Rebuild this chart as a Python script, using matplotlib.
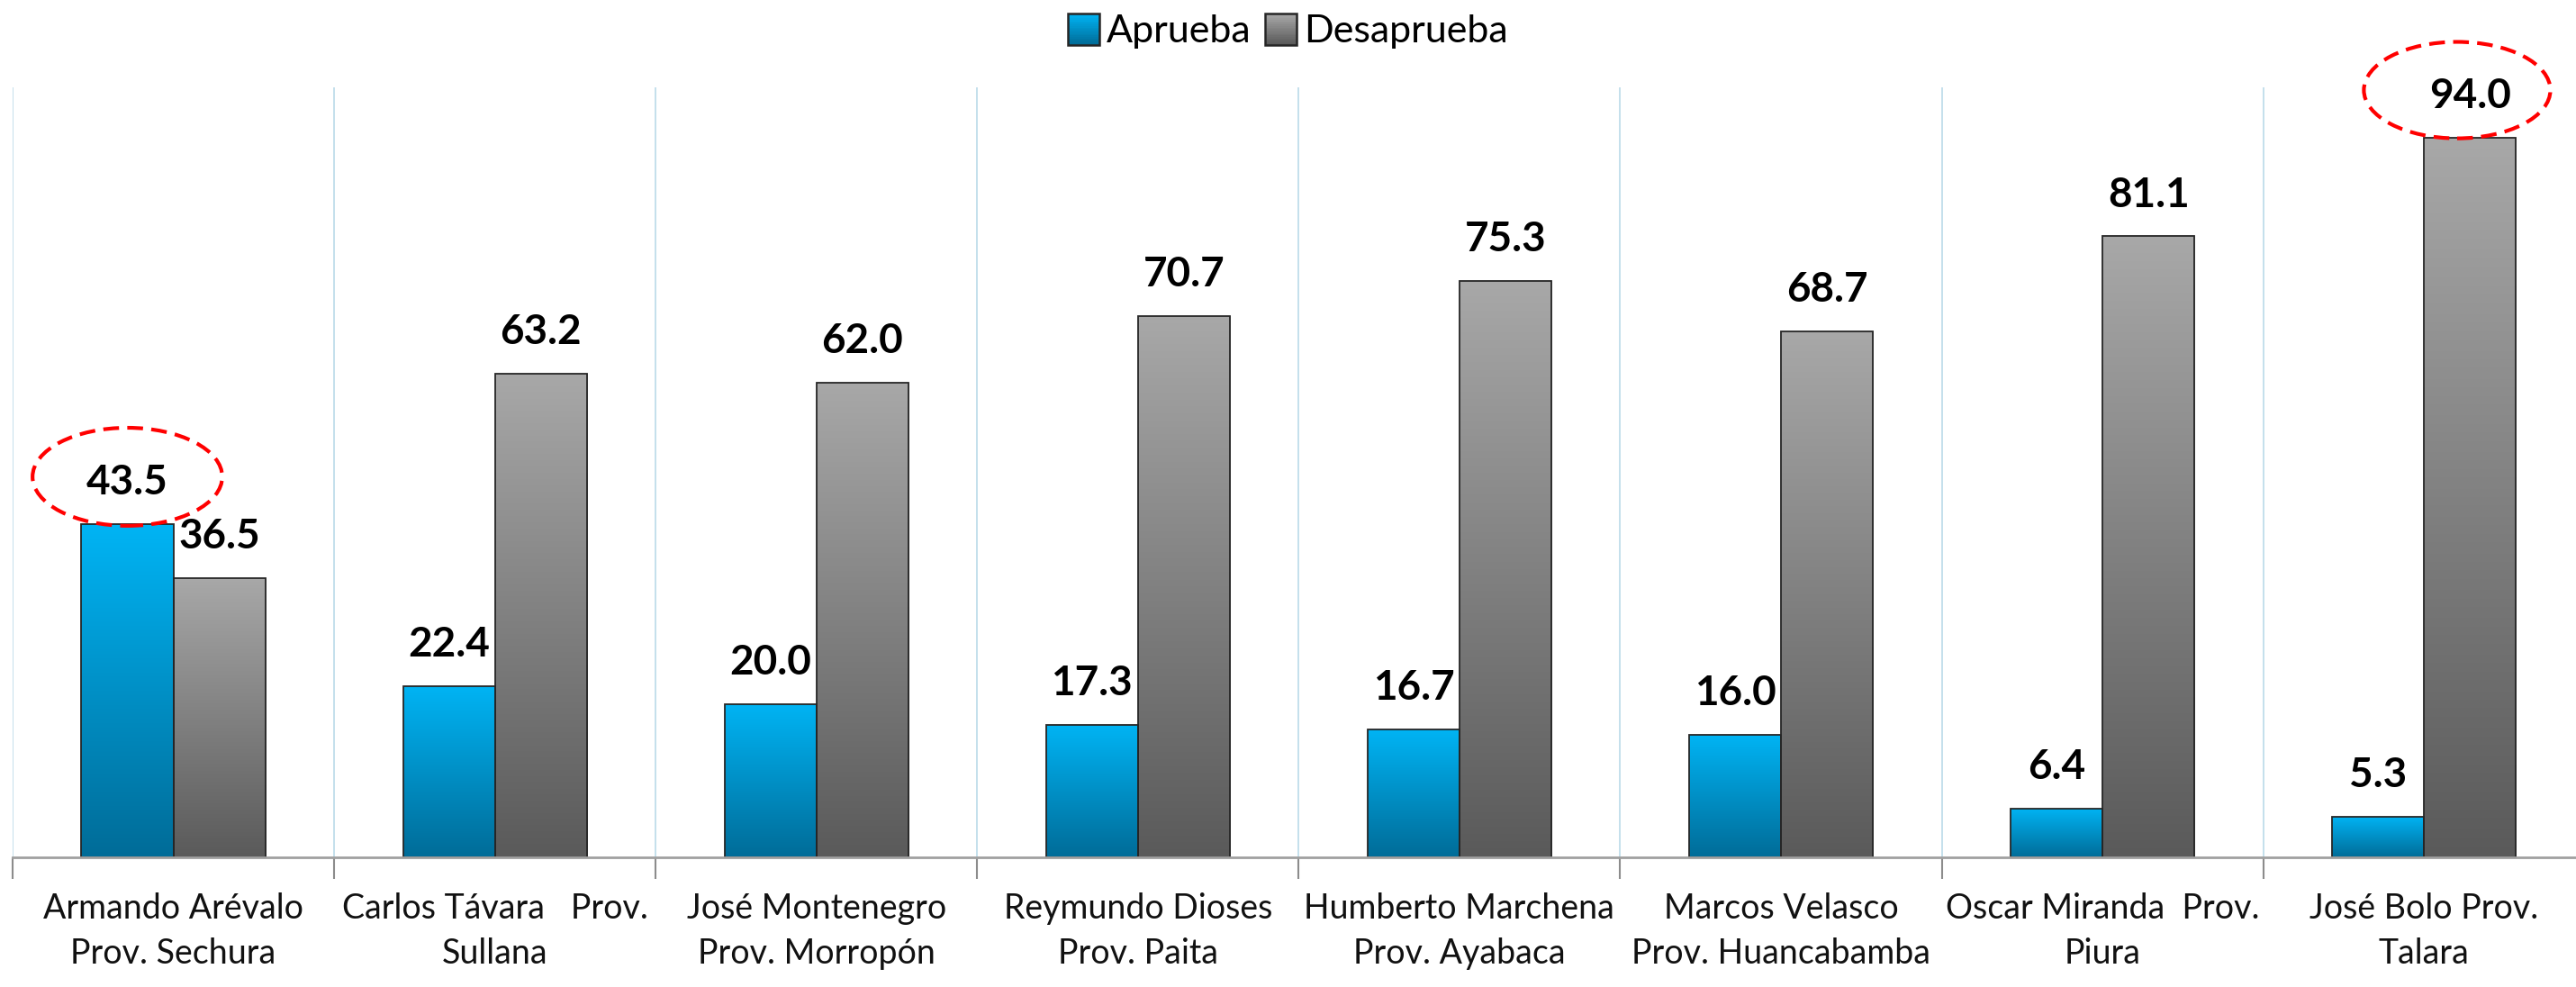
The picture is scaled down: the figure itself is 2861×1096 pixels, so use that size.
import numpy as np
import matplotlib
matplotlib.use("Agg")
import matplotlib.pyplot as plt
from matplotlib.patches import Ellipse, Rectangle
from matplotlib.colors import LinearSegmentedColormap
from matplotlib.legend_handler import HandlerBase

plt.rcParams['font.family'] = ['Lato', 'DejaVu Sans']

categories = [
    "Armando Arévalo\nProv. Sechura",
    "Carlos Távara   Prov.\nSullana",
    "José Montenegro\nProv. Morropón",
    "Reymundo Dioses\nProv. Paita",
    "Humberto Marchena\nProv. Ayabaca",
    "Marcos Velasco\nProv. Huancabamba",
    "Oscar Miranda  Prov.\nPiura",
    "José Bolo Prov.\nTalara",
]
aprueba = [43.5, 22.4, 20.0, 17.3, 16.7, 16.0, 6.4, 5.3]
desaprueba = [36.5, 63.2, 62.0, 70.7, 75.3, 68.7, 81.1, 94.0]
series_names = ["Aprueba", "Desaprueba"]

blue_cmap = LinearSegmentedColormap.from_list("b", ["#006C98", "#00B4F4"])
gray_cmap = LinearSegmentedColormap.from_list("g", ["#5A5A5A", "#A8A8A8"])
edge = "#262626"

fig = plt.figure(figsize=(28.61, 10.96), dpi=100)
ax = fig.add_axes([0.0049, 0.1314, 0.9985, 0.7804])

x = np.arange(len(categories))
w = 0.286
grad = np.linspace(0, 1, 256).reshape(-1, 1)


def gradient_bars(xs, vals, cmap):
    bars = ax.bar(xs, vals, width=w, facecolor="none", edgecolor=edge,
                  linewidth=1.3, zorder=3)
    for b in bars:
        x0, y0 = b.get_x(), b.get_y()
        bw, bh = b.get_width(), b.get_height()
        im = ax.imshow(grad, cmap=cmap, origin="lower", aspect="auto",
                       extent=(x0, x0 + bw, y0, y0 + bh), zorder=2)
        im.set_clip_path(b)
    return bars


gradient_bars(x - w / 2, aprueba, blue_cmap)
gradient_bars(x + w / 2, desaprueba, gray_cmap)
ax.set_xlim(-0.5, len(categories) - 0.5)
ax.set_ylim(0, 100.6)

for xi, v in zip(x - w / 2, aprueba):
    ax.text(xi, v + 5.4, f"{v:.1f}", ha="center", va="center",
            fontsize=33, fontweight="bold", color="black", zorder=5)
for xi, v in zip(x + w / 2, desaprueba):
    ax.text(xi, v + 5.4, f"{v:.1f}", ha="center", va="center",
            fontsize=33, fontweight="bold", color="black", zorder=5)

# highlight ellipses around the max values
ia = int(np.argmax(aprueba))
idd = int(np.argmax(desaprueba))
for xc, v, ew, eh in [(x[ia] - w / 2, aprueba[ia], 0.59, 12.8),
                      (x[idd] + w / 2 - 0.04, desaprueba[idd], 0.58, 12.6)]:
    e = Ellipse((xc, v + 6.2), ew, eh, facecolor="none", edgecolor="#FF0000",
                linewidth=3.0, linestyle=(0, (4.2, 2.2)), clip_on=False, zorder=6)
    ax.add_patch(e)

# gridlines at category boundaries
for b in np.arange(-0.5, len(categories), 1.0):
    ax.axvline(b, color="#BFDDEA", linewidth=1.3, zorder=1)

for s in ["top", "right", "left"]:
    ax.spines[s].set_visible(False)
ax.spines["bottom"].set_color("#A0A0A0")
ax.spines["bottom"].set_linewidth(2)
ax.spines["bottom"].set_zorder(4)
ax.set_yticks([])

ax.set_xticks(x)
ax.set_xticklabels(categories, fontsize=27, color="#111111", linespacing=1.5)
ax.tick_params(axis="x", which="major", length=0, pad=28)
ax.set_xticks(np.arange(-0.5, len(categories), 1.0), minor=True)
ax.tick_params(axis="x", which="minor", length=17, width=1.5, color="#8C8C8C")


class GradHandler(HandlerBase):
    def __init__(self, cmap):
        super().__init__()
        self.cmap = cmap

    def create_artists(self, legend, orig_handle, xdescent, ydescent, width,
                       height, fontsize, trans):
        arts = []
        n = 20
        side = height * 1.05
        x0 = xdescent + (width - side) / 2
        y0 = -ydescent + (height - side) / 2
        for k in range(n):
            r = Rectangle((x0, y0 + side * k / n), side, side / n + 0.3,
                          facecolor=self.cmap(k / (n - 1)), edgecolor="none",
                          transform=trans)
            arts.append(r)
        arts.append(Rectangle((x0, y0), side, side, facecolor="none",
                              edgecolor=edge, linewidth=1.8, transform=trans))
        return arts


h1 = Rectangle((0, 0), 1, 1)
h2 = Rectangle((0, 0), 1, 1)
fig.legend([h1, h2], series_names, loc="center", bbox_to_anchor=(0.5, 0.968),
           ncol=2, frameon=False, fontsize=31, handlelength=0.8,
           handleheight=0.8, handletextpad=0.2, columnspacing=0.35,
           handler_map={h1: GradHandler(blue_cmap), h2: GradHandler(gray_cmap)})

fig.savefig("out.png", dpi=100)
